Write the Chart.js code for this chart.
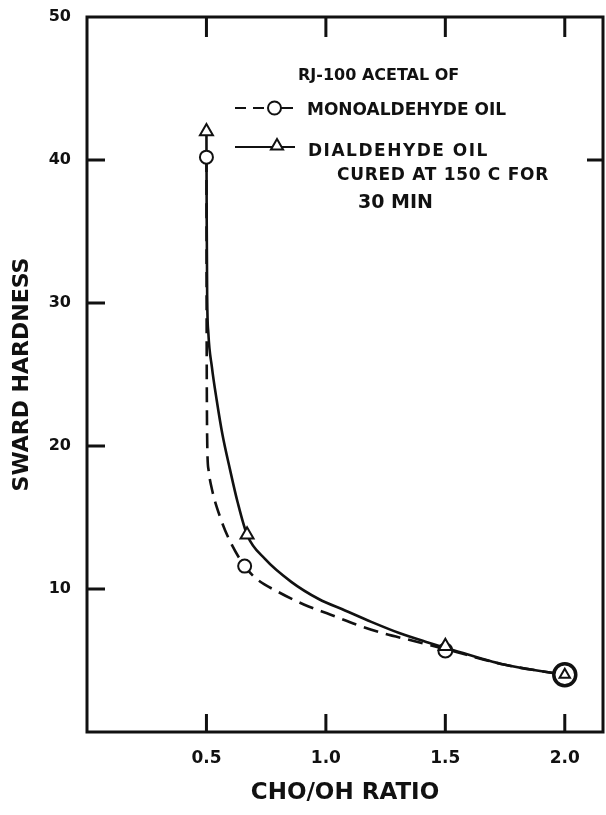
<!DOCTYPE html>
<html><head><meta charset="utf-8">
<script src="https://cdn.jsdelivr.net/npm/chart.js@4.4.1/dist/chart.umd.min.js"></script>
<style>html,body{margin:0;padding:0;background:#fff}</style>
</head><body>
<canvas id="c" width="606" height="815"></canvas>
<script>
// ---- data ----
const xTickValues = [0.5, 1.0, 1.5, 2.0];
const xTickLabels = ['0.5', '1.0', '1.5', '2.0'];
const yTickValues = [10, 20, 30, 40, 50];
const yTickLabels = ['10', '20', '30', '40', '50'];

// measured points (markers)
const monoX = [0.5, 0.66, 1.5, 2.0];
const monoY = [40.2, 11.6, 5.7, 4.0];
const diX = [0.5, 0.67, 1.5, 2.0];
const diY = [42.0, 13.8, 6.0, 4.0];

// hand-drawn curves, values
const monoCurveX = [0.5, 0.5005, 0.501, 0.502, 0.504, 0.509, 0.52, 0.56, 0.60, 0.66, 0.71, 0.80, 0.91, 1.02, 1.13, 1.24, 1.36, 1.5, 1.75, 2.0];
const monoCurveY = [40.2, 33.0, 27.0, 22.5, 19.6, 18.3, 17.2, 14.9, 13.3, 11.6, 10.7, 9.8, 8.9, 8.2, 7.5, 6.9, 6.4, 5.8, 4.7, 4.0];
const diCurveX = [0.5, 0.501, 0.503, 0.508, 0.523, 0.543, 0.567, 0.598, 0.63, 0.67, 0.745, 0.855, 0.97, 1.08, 1.19, 1.31, 1.42, 1.5, 1.75, 2.0];
const diCurveY = [42.0, 36.0, 30.5, 27.9, 25.5, 23.2, 20.8, 18.4, 16.1, 13.8, 12.1, 10.5, 9.3, 8.5, 7.7, 6.9, 6.3, 5.9, 4.7, 4.0];

const seriesNames = ['MONOALDEHYDE OIL', 'DIALDEHYDE OIL'];
const legendTitle = 'RJ-100 ACETAL OF';
const noteLines = ['CURED AT 150 C FOR', '30 MIN'];
const xTitle = 'CHO/OH RATIO';
const yTitle = 'SWARD HARDNESS';

// ---- helpers ----
const INK = '#111';
const FONT = '"DejaVu Sans", sans-serif';
const pts = (xs, ys) => xs.map((x, i) => ({x: x, y: ys[i]}));

function drawCircle(ctx, x, y, r, lw) {
  ctx.beginPath(); ctx.arc(x, y, r, 0, Math.PI * 2);
  ctx.fillStyle = '#fff'; ctx.fill();
  ctx.lineWidth = lw; ctx.strokeStyle = INK; ctx.stroke();
}
function drawTri(ctx, x, y, r, lw) {
  ctx.beginPath();
  for (let k = 0; k < 3; k++) {
    const a = k * 2 * Math.PI / 3;
    const px = x + Math.sin(a) * r, py = y - Math.cos(a) * r;
    if (k === 0) ctx.moveTo(px, py); else ctx.lineTo(px, py);
  }
  ctx.closePath();
  ctx.fillStyle = '#fff'; ctx.fill();
  ctx.lineWidth = lw; ctx.strokeStyle = INK; ctx.stroke();
}

const framePlugin = {
  id: 'frame',
  afterDraw(chart) {
    const {ctx, chartArea: a, scales: {x, y}} = chart;
    ctx.save();
    ctx.strokeStyle = INK; ctx.lineWidth = 3; ctx.lineCap = 'butt';
    ctx.strokeRect(a.left, a.top, a.right - a.left, a.bottom - a.top);
    ctx.beginPath();
    yTickValues.forEach(v => {
      if (v >= 50) return;
      const py = y.getPixelForValue(v);
      ctx.moveTo(a.left, py); ctx.lineTo(a.left + 18, py);
    });
    xTickValues.forEach(v => {
      const px = x.getPixelForValue(v);
      ctx.moveTo(px, a.bottom); ctx.lineTo(px, a.bottom - 18);
      ctx.moveTo(px, a.top); ctx.lineTo(px, a.top + 20);
    });
    const p40 = y.getPixelForValue(40);
    ctx.moveTo(a.right, p40); ctx.lineTo(a.right - 16, p40);
    ctx.stroke();
    ctx.restore();
  }
};

const legendPlugin = {
  id: 'legendNotes',
  afterDraw(chart) {
    const ctx = chart.ctx;
    ctx.save();
    ctx.fillStyle = INK; ctx.textAlign = 'left'; ctx.textBaseline = 'middle';
    ctx.font = 'bold 16px ' + FONT;
    ctx.letterSpacing = '0px';
    ctx.fillText(legendTitle, 298, 76);
    ctx.font = 'bold 17px ' + FONT;
    ctx.fillText(seriesNames[0], 307, 111);
    ctx.letterSpacing = '1.5px';
    ctx.fillText(seriesNames[1], 308, 152);
    ctx.letterSpacing = '0.7px';
    ctx.fillText(noteLines[0], 337, 176);
    ctx.letterSpacing = '0px';
    ctx.font = 'bold 19px ' + FONT;
    ctx.fillText(noteLines[1], 358, 203);

    // samples
    ctx.strokeStyle = INK; ctx.lineWidth = 2;
    ctx.setLineDash([11, 7]);
    ctx.beginPath(); ctx.moveTo(235, 108); ctx.lineTo(268, 108); ctx.stroke();
    ctx.setLineDash([]);
    ctx.beginPath(); ctx.moveTo(281, 108); ctx.lineTo(293, 108); ctx.stroke();
    drawCircle(ctx, 274.5, 108, 6.5, 2);
    ctx.beginPath(); ctx.moveTo(235, 147); ctx.lineTo(295, 147); ctx.stroke();
    drawTri(ctx, 277, 146, 7, 2);
    ctx.restore();
  }
};

new Chart(document.getElementById('c'), {
  type: 'line',
  data: {
    datasets: [
      {
        label: seriesNames[1], data: pts(diX, diY), showLine: false,
        pointStyle: 'triangle', pointRadius: [7.5, 7.5, 7.5, 6], pointBorderWidth: 2,
        pointBackgroundColor: '#fff', pointBorderColor: INK
      },
      {
        label: seriesNames[0], data: pts(monoX, monoY), showLine: false,
        pointStyle: 'circle', pointRadius: [6.5, 6.5, 7, 11], pointBorderWidth: [2, 2, 2, 3.5],
        pointBackgroundColor: '#fff', pointBorderColor: INK
      },
      {
        label: seriesNames[1] + ' curve', data: pts(diCurveX, diCurveY),
        borderColor: INK, borderWidth: 2.6, pointRadius: 0, fill: false,
        cubicInterpolationMode: 'monotone'
      },
      {
        label: seriesNames[0] + ' curve', data: pts(monoCurveX, monoCurveY),
        borderColor: INK, borderWidth: 2.6, borderDash: [15, 8], pointRadius: 0, fill: false,
        cubicInterpolationMode: 'monotone'
      }
    ]
  },
  options: {
    responsive: false, animation: false, devicePixelRatio: 1,
    layout: {autoPadding: false, padding: {top: 17, right: 3, left: 0, bottom: 0}},
    plugins: {legend: {display: false}, tooltip: {enabled: false}},
    scales: {
      x: {
        type: 'linear', min: 0, max: 2.16,
        afterBuildTicks: s => { s.ticks = xTickValues.map(v => ({value: v})); },
        afterFit: s => { s.height = 83; s.paddingLeft = 0; s.paddingRight = 0; },
        grid: {display: false, drawTicks: false, tickLength: 0},
        border: {display: false},
        ticks: {
          padding: 16, color: INK, font: {family: FONT, size: 17, weight: 'bold'},
          maxRotation: 0, autoSkip: false,
          callback: (v) => { const i = xTickValues.indexOf(v); return i >= 0 ? xTickLabels[i] : ''; }
        },
        title: {display: true, text: xTitle, color: INK, font: {family: FONT, size: 23, weight: 'bold'}, padding: {top: 0, bottom: 8}}
      },
      y: {
        type: 'linear', min: 0, max: 50,
        afterBuildTicks: s => { s.ticks = yTickValues.map(v => ({value: v})); },
        afterFit: s => { s.width = 87; s.paddingTop = 0; s.paddingBottom = 0; },
        grid: {display: false, drawTicks: false, tickLength: 0},
        border: {display: false},
        ticks: {
          padding: 16, color: INK, font: {family: FONT, size: 16, weight: 'bold'},
          callback: (v) => { const i = yTickValues.indexOf(v); return i >= 0 ? yTickLabels[i] : ''; }
        },
        title: {display: true, text: yTitle, color: INK, font: {family: FONT, size: 22, weight: 'bold'}, padding: {top: 9, bottom: 0}}
      }
    }
  },
  plugins: [framePlugin, legendPlugin]
});
</script>
</body></html>
